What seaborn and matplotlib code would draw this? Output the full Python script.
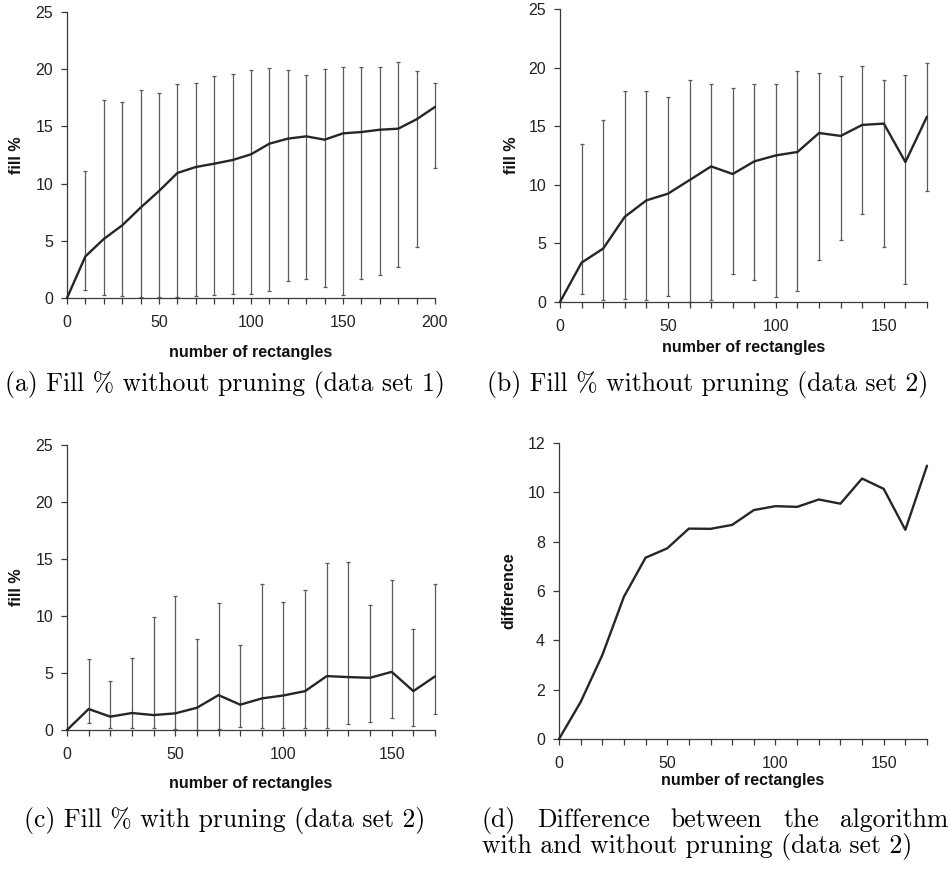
import numpy as np
import pandas as pd
import matplotlib
matplotlib.use("Agg")
import matplotlib.pyplot as plt
import seaborn as sns

nan = np.nan

# (a) fill % without pruning, data set 1
x_a = list(range(0, 201, 10))
mean_a = [0, 3.64, 5.16, 6.35, 7.90, 9.35, 10.93, 11.45, 11.74, 12.06, 12.56,
          13.49, 13.93, 14.13, 13.84, 14.39, 14.51, 14.71, 14.80, 15.62, 16.70]
low_a = [nan, 0.73, 0.23, 0.20, 0.12, 0.12, 0.12, 0.17, 0.29, 0.38, 0.38,
         0.64, 1.52, 1.66, 0.99, 0.29, 1.63, 2.01, 2.68, 4.49, 11.36]
high_a = [nan, 11.13, 17.28, 17.13, 18.15, 17.95, 18.74, 18.82, 19.40, 19.58, 19.93,
          20.10, 19.93, 19.52, 20.05, 20.19, 20.19, 20.19, 20.60, 19.81, 18.82]

# (b) fill % without pruning, data set 2
x_b = list(range(0, 171, 10))
mean_b = [0, 3.36, 4.56, 7.27, 8.67, 9.24, 10.40, 11.57, 10.92, 12.00, 12.51,
          12.80, 14.42, 14.17, 15.11, 15.22, 11.94, 15.82]
low_b = [nan, 0.66, 0.20, 0.29, 0.20, 0.54, 0.00, 0.14, 2.37, 1.85, 0.43,
         0.91, 3.62, 5.33, 7.50, 4.70, 1.51, 9.46]
high_b = [nan, 13.46, 15.56, 18.02, 17.99, 17.53, 18.90, 18.64, 18.24, 18.56, 18.56,
          19.67, 19.56, 19.27, 20.13, 18.93, 19.33, 20.38]

# (c) fill % with pruning, data set 2
x_c = list(range(0, 171, 10))
mean_c = [0, 1.84, 1.17, 1.49, 1.31, 1.46, 1.95, 3.06, 2.22, 2.77, 3.03,
          3.41, 4.73, 4.64, 4.58, 5.10, 3.41, 4.70]
low_c = [nan, 0.64, 0.15, 0.15, 0.15, 0.09, 0.00, 0.09, 0.26, 0.15, 0.15,
         0.15, 0.15, 0.55, 0.70, 1.08, 0.38, 1.40]
high_c = [nan, 6.27, 4.26, 6.33, 9.92, 11.79, 8.02, 11.17, 7.50, 12.81, 11.26,
          12.25, 14.62, 14.70, 10.94, 13.19, 8.87, 12.84]

# (d) difference with / without pruning, data set 2
x_d = list(range(0, 171, 10))
diff_d = [0, 1.50, 3.40, 5.77, 7.35, 7.73, 8.53, 8.52, 8.68, 9.28, 9.44,
          9.41, 9.71, 9.54, 10.56, 10.14, 8.48, 11.08]

x_label = "number of rectangles"
y_label_fill = "fill %"
y_label_diff = "difference"

captions = {
    "a": "(a) Fill % without pruning (data set 1)",
    "b": "(b) Fill % without pruning (data set 2)",
    "c": "(c) Fill % with pruning (data set 2)",
    "d1": "(d) Difference between the algorithm",
    "d2": "with and without pruning (data set 2)",
}

sns.set_theme(style="white")
plt.rcParams["font.family"] = ["Liberation Sans", "DejaVu Sans"]

W, H = 949, 877
fig = plt.figure(figsize=(W / 100, H / 100), dpi=100)
fig.patch.set_facecolor("white")

AXIS_C = "#3a3a3a"
LINE_C = "#262626"
ERR_C = "#5a5a5a"


def px_axes(l, t, r, b):
    return fig.add_axes([l / W, 1 - b / H, (r - l) / W, (b - t) / H])


def style_axes(ax, xmax, ymax, ystep, ylab, xlab_y, ylab_x, xpad):
    ax.set_xlim(0, xmax)
    ax.set_ylim(0, ymax)
    for s in ("top", "right"):
        ax.spines[s].set_visible(False)
    for s in ("left", "bottom"):
        ax.spines[s].set_color(AXIS_C)
        ax.spines[s].set_linewidth(0.9)
    xt = list(range(0, xmax + 1, 10))
    ax.set_xticks(xt)
    ax.set_xticklabels([str(v) if v % 50 == 0 else "" for v in xt])
    yt = np.arange(0, ymax + 0.01, ystep)
    ax.set_yticks(yt)
    ax.set_yticklabels([f"{v:g}" for v in yt])
    ax.tick_params(axis="x", direction="out", length=4, width=0.9, color=AXIS_C,
                   labelsize=11.5, labelcolor="#222222", pad=xpad, bottom=True)
    ax.tick_params(axis="y", direction="out", length=4, width=0.9, color=AXIS_C,
                   labelsize=11.5, labelcolor="#222222", pad=6, left=True)
    ax.set_xlabel(x_label, fontsize=11.5, fontweight="bold", color="#111111", va="center")
    ax.xaxis.set_label_coords(0.5, xlab_y)
    ax.set_ylabel(ylab, fontsize=11.5, fontweight="bold", color="#111111", va="center")
    ax.yaxis.set_label_coords(ylab_x, 0.5)
    ax.grid(False)
    ax.set_facecolor("white")


def draw_series(ax, xs, mean, low=None, high=None):
    df = pd.DataFrame({"n": xs, "v": mean})
    if low is not None:
        lo = np.array(low, dtype=float)
        hi = np.array(high, dtype=float)
        m = np.array(mean, dtype=float)
        ok = ~np.isnan(lo)
        eb = ax.errorbar(np.array(xs)[ok], m[ok], yerr=[m[ok] - lo[ok], hi[ok] - m[ok]],
                         fmt="none", ecolor=ERR_C, elinewidth=0.9, capsize=1.6,
                         capthick=0.9, zorder=2)
        for part in eb.get_children():
            part.set_clip_on(False)
    sns.lineplot(data=df, x="n", y="v", ax=ax, color=LINE_C, linewidth=1.7,
                 zorder=3, clip_on=False)


ax_a = px_axes(67, 12, 435, 298)
draw_series(ax_a, x_a, mean_a, low_a, high_a)
style_axes(ax_a, 200, 25, 5, y_label_fill, -0.189, -0.136, 8)

ax_b = px_axes(560, 9, 927, 302)
draw_series(ax_b, x_b, mean_b, low_b, high_b)
style_axes(ax_b, 170, 25, 5, y_label_fill, -0.154, -0.131, 8)

ax_c = px_axes(67, 445, 435, 730)
draw_series(ax_c, x_c, mean_c, low_c, high_c)
style_axes(ax_c, 170, 25, 5, y_label_fill, -0.186, -0.136, 8)

ax_d = px_axes(559, 443, 927, 739)
draw_series(ax_d, x_d, diff_d)
style_axes(ax_d, 170, 12, 2, y_label_diff, -0.140, -0.136, 8)

# Sub-figure captions
CAP = dict(family="cmr10", fontsize=18.5, color="black", va="center")


def caption(text, cx, cy):
    fig.text(cx / W, 1 - cy / H, text, ha="center", **CAP)


def justified(text, x0, x1, cy):
    renderer = fig.canvas.get_renderer()
    words = text.split()
    objs = [fig.text(0, 1 - cy / H, w, ha="left", **CAP) for w in words]
    widths = [o.get_window_extent(renderer).width for o in objs]
    gap = ((x1 - x0) - sum(widths)) / (len(words) - 1)
    x = x0
    for o, w in zip(objs, widths):
        o.set_x(x / W)
        x += w + gap


caption(captions["a"], 225, 384)
caption(captions["b"], 708, 384)
caption(captions["c"], 225, 820)
justified(captions["d1"], 482, 948, 820)
fig.text(482 / W, 1 - 846 / H, captions["d2"], ha="left", **CAP)

fig.savefig("out.png", dpi=100, facecolor="white")
